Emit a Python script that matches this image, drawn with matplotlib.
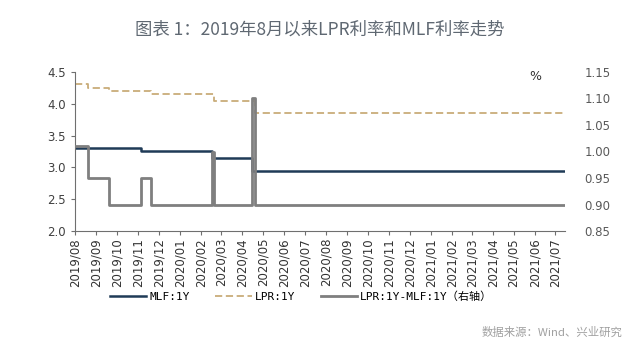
import pandas as pd
import matplotlib.pyplot as plt
import matplotlib.dates as mdates
from matplotlib.ticker import MultipleLocator, FormatStrFormatter

plt.rcParams['font.family'] = ['DejaVu Sans', 'Noto Sans CJK SC']

# MLF 1年期利率
mlf_dates = ['2019-08-01', '2019-11-05', '2020-02-17', '2020-04-15', '2021-07-15']
mlf_vals = [3.30, 3.25, 3.15, 2.95, 2.95]

# LPR 1年期利率
lpr_dates = ['2019-08-01', '2019-08-20', '2019-09-20', '2019-11-20', '2020-02-20',
             '2020-04-20', '2021-07-15']
lpr_vals = [4.31, 4.25, 4.20, 4.15, 4.05, 3.85, 3.85]

# LPR-MLF 利差 (右轴)
spr_dates = ['2019-08-01', '2019-08-20', '2019-09-20', '2019-11-05', '2019-11-20',
             '2020-02-17', '2020-02-20', '2020-04-15', '2020-04-20', '2021-07-15']
spr_vals = [1.01, 0.95, 0.90, 0.95, 0.90, 1.00, 0.90, 1.10, 0.90, 0.90]

mlf = pd.Series(mlf_vals, index=pd.to_datetime(mlf_dates))
lpr = pd.Series(lpr_vals, index=pd.to_datetime(lpr_dates))
spr = pd.Series(spr_vals, index=pd.to_datetime(spr_dates))

fig = plt.figure(figsize=(6.4, 3.56), dpi=100)
ax = fig.add_axes([75 / 640, 1 - 231 / 356, 490 / 640, 159 / 356])
ax2 = ax.twinx()

l1, = ax.plot(mlf.index, mlf.values, drawstyle='steps-post', color='#1f3b57', lw=1.8)
l2, = ax.plot(lpr.index, lpr.values, drawstyle='steps-post', color='#c9ad7a', lw=1.3,
              linestyle=(0, (4, 2)))
l3, = ax2.plot(spr.index, spr.values, drawstyle='steps-post', color='#7f7f7f', lw=2.0)

ax.set_ylim(2.0, 4.5)
ax.yaxis.set_major_locator(MultipleLocator(0.5))
ax.yaxis.set_major_formatter(FormatStrFormatter('%.1f'))
ax2.set_ylim(0.85, 1.15)
ax2.yaxis.set_major_locator(MultipleLocator(0.05))
ax2.yaxis.set_major_formatter(FormatStrFormatter('%.2f'))

ax.set_xlim(pd.Timestamp('2019-08-01'), pd.Timestamp('2021-07-15'))
ax.xaxis.set_major_locator(mdates.MonthLocator())
ax.xaxis.set_major_formatter(mdates.DateFormatter('%Y/%m'))
for lab in ax.get_xticklabels():
    lab.set_rotation(90)

for s in ['top', 'right']:
    ax.spines[s].set_visible(False)
for s in ['top', 'right', 'left', 'bottom']:
    ax2.spines[s].set_visible(False)
ax.spines['left'].set_color('#6f6f6f')
ax.spines['bottom'].set_color('#6f6f6f')
ax.tick_params(axis='x', length=3, color='#6f6f6f', labelsize=8.5, labelcolor='#333333', pad=2)
ax.tick_params(axis='y', length=3, color='#6f6f6f', labelsize=8.5, labelcolor='#404040')
ax2.tick_params(axis='y', length=0, pad=14, labelsize=8.5, labelcolor='#595959')

fig.text(535 / 640, 1 - 77 / 356, '%', fontsize=9, color='#333333', ha='center', va='center')

fig.text(0.5, 1 - 30 / 356, '图表 1：2019年8月以来LPR利率和MLF利率走势',
         fontsize=12.5, color='#5f6872', ha='center', va='center',
         family=['Noto Sans CJK SC', 'DejaVu Sans'])

fig.legend([l1, l2, l3], ['MLF:1Y', 'LPR:1Y', 'LPR:1Y-MLF:1Y（右轴）'],
           loc='center', bbox_to_anchor=(301 / 640, 1 - 297 / 356), ncol=3, frameon=False,
           handlelength=3.3, handletextpad=0.25, columnspacing=2.3,
           prop={'family': ['DejaVu Sans Mono', 'Noto Sans CJK SC'], 'size': 8})

fig.text(622 / 640, 1 - 332 / 356, '数据来源：Wind、兴业研究', fontsize=8.2, color='#a0a0a0',
         ha='right', va='center', family=['Noto Sans CJK SC', 'DejaVu Sans'])

fig.savefig('out.png', dpi=100, facecolor='white')
